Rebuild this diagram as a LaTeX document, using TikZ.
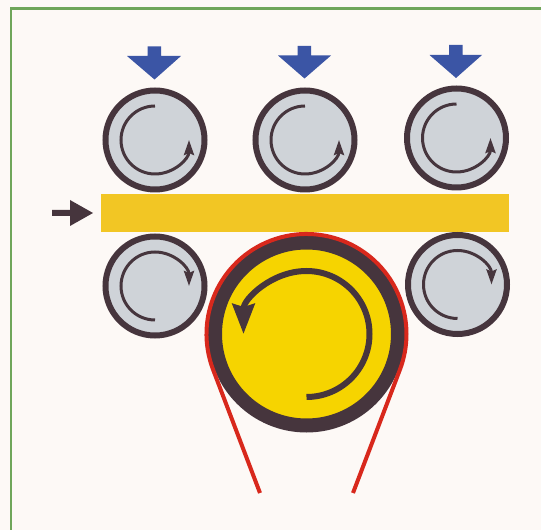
\documentclass[tikz,border=0pt]{standalone}
\usetikzlibrary{arrows.meta}

\definecolor{paper}{HTML}{FDF9F6}
\definecolor{frameGreen}{HTML}{6FA65A}
\definecolor{ringDark}{HTML}{46353D}
\definecolor{rollerGray}{HTML}{CFD3D8}
\definecolor{stripYellow}{HTML}{F2C624}
\definecolor{drumYellow}{HTML}{F6D400}
\definecolor{beltRed}{HTML}{D8281C}
\definecolor{pressBlue}{HTML}{3B55A5}

\begin{document}
\begin{tikzpicture}[
    x=1pt, y=1pt,
    roller/.style={draw=ringDark, circle, fill=rollerGray, line width=6pt,
                   minimum size=99pt, inner sep=0pt},
    drum/.style={draw=ringDark, circle, fill=drumYellow, line width=14pt,
                 minimum size=183pt, inner sep=0pt},
    turn/.style={draw=ringDark, line width=3pt,
                 -{Stealth[length=15pt, width=10pt, inset=2pt]}},
    bigturn/.style={draw=ringDark, line width=6pt,
                    -{Stealth[length=30pt, width=22pt, inset=3pt]}},
    press/.style={fill=pressBlue, draw=none},
    belt/.style={draw=beltRed, line width=4pt},
    edge/.style={draw=frameGreen, line width=2.5pt},
  ]

  \fill[paper] (0, 0) rectangle (541, 530);
  \useasboundingbox (0, 0) rectangle (541, 530);

  %% ================================================================
  %% Frame: only the top and left edges show
  %% ================================================================
  \coordinate (frameTR) at (541, 521.5);
  \coordinate (frameTL) at (11,  521.5);
  \coordinate (frameBL) at (11,  0);
  \draw[edge] (frameTR) -- (frameTL) -- (frameBL);

  %% ================================================================
  %% Strip and feed arrow
  %% ================================================================
  \node[fill=stripYellow, minimum width=408pt, minimum height=38pt, inner sep=0pt]
    (strip) at (305, 316.5) {};

  \fill[ringDark] (52, 320) -- (70, 320) -- (70, 330) -- (93, 317)
    -- (70, 304) -- (70, 314) -- (52, 314) -- cycle;

  %% ================================================================
  %% Upper rollers, with pressure arrows above them
  %% ================================================================
  \node[roller] (rollA) at (155,   390) {};
  \node[roller] (rollB) at (305,   390) {};
  \node[roller] (rollC) at (456.5, 392) {};

  \draw[turn] (rollA.center) ++(90:34) arc[start angle=90, end angle=360, radius=34];
  \draw[turn] (rollB.center) ++(90:34) arc[start angle=90, end angle=360, radius=34];
  \draw[turn] (rollC.center) ++(90:34) arc[start angle=90, end angle=360, radius=34];

  \path[press] (147.5, 483.5) -- (161, 483.5) -- (161, 474) -- (181, 474)
    -- (154.5, 450.5) -- (127, 474) -- (147.5, 474) -- cycle;
  \path[press] (297.5, 484) -- (311, 484) -- (311, 474.5) -- (331, 474.5)
    -- (304.5, 451.5) -- (278, 474.5) -- (297.5, 474.5) -- cycle;
  \path[press] (449, 485) -- (462.5, 485) -- (462.5, 475) -- (482, 475)
    -- (456, 452) -- (429.5, 475) -- (449, 475) -- cycle;

  %% ================================================================
  %% Lower rollers
  %% ================================================================
  \node[roller] (rollD) at (155,   244) {};
  \node[roller] (rollE) at (457.5, 245.5) {};

  \draw[turn] (rollD.center) ++(270:34) arc[start angle=270, end angle=0, radius=34];
  \draw[turn] (rollE.center) ++(270:34) arc[start angle=270, end angle=0, radius=34];

  %% ================================================================
  %% Drum and belt
  %% ================================================================
  \node[drum] (mainDrum) at (306.5, 196) {};
  \node[circle, minimum size=200pt, inner sep=0pt, outer sep=0pt]
    (beltWrap) at (306.5, 196) {};

  \coordinate (beltL) at (260, 37);
  \coordinate (beltR) at (353, 37);
  \draw[belt] (beltL) -- (beltWrap.201) arc[start angle=201, end angle=-21, radius=100]
    -- (beltR);

  \draw[bigturn] (mainDrum.center) ++(270:63) arc[start angle=270, end angle=540, radius=63];

\end{tikzpicture}
\end{document}
